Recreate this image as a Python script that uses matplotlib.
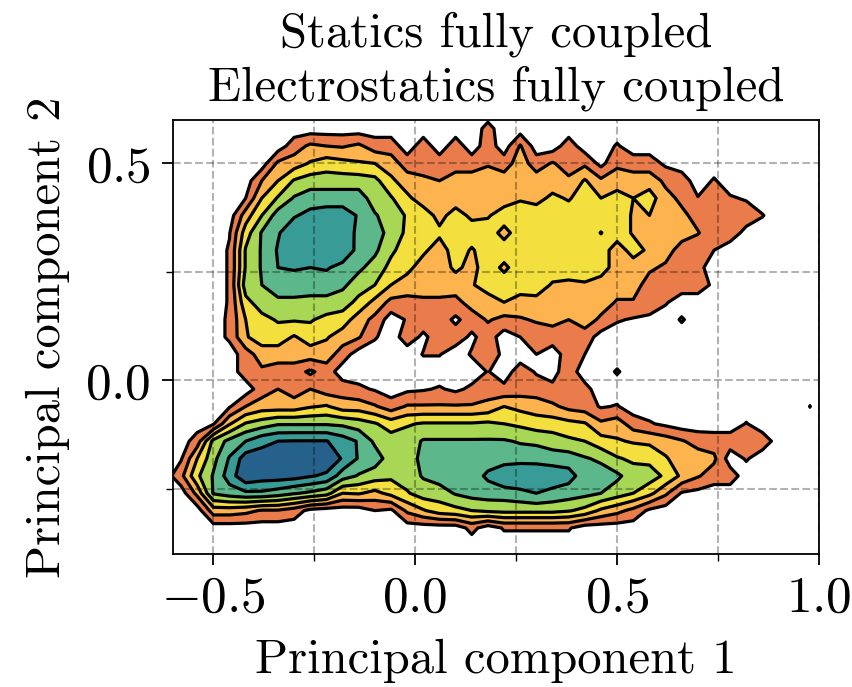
import numpy as np
import matplotlib
matplotlib.use("Agg")
import matplotlib.pyplot as plt
from matplotlib.ticker import FixedLocator

plt.rcParams['font.family'] = ['cmr10']
plt.rcParams['mathtext.fontset'] = 'cm'
plt.rcParams['axes.unicode_minus'] = False
plt.rcParams['axes.formatter.use_mathtext'] = True

title_lines = ["Statics fully coupled", "Electrostatics fully coupled"]
x_label = "Principal component 1"
y_label = "Principal component 2"
x_major = [-0.5, 0.0, 0.5, 1.0]
x_major_labels = ["$-0.5$", "$0.0$", "$0.5$", "$1.0$"]
x_minor = [-0.25, 0.25, 0.75]
y_major = [0.0, 0.5]
y_major_labels = ["$0.0$", "$0.5$"]
y_minor = [-0.25, 0.25]
fill_colors = ["#E97C4A", "#FDB44E", "#F3DF3E", "#A7D755", "#5CB88A", "#399B96", "#25618A"]
levels = [0.5, 1.5, 2.5, 3.5, 4.5, 5.5, 6.5, 9.0]

# bin centres of the density grid (first column / row lie outside the frame)
x_bins = [-0.62, -0.58, -0.54, -0.50, -0.46, -0.42, -0.38, -0.34, -0.30, -0.26, -0.22,
          -0.18, -0.14, -0.10, -0.06, -0.02, 0.02, 0.06, 0.10, 0.14, 0.18,
          0.22, 0.26, 0.30, 0.34, 0.38, 0.42, 0.46, 0.50, 0.54, 0.58,
          0.62, 0.66, 0.70, 0.74, 0.78, 0.82, 0.86, 0.90, 0.94, 0.98]
y_bins = [0.62, 0.58, 0.54, 0.50, 0.46, 0.42, 0.38, 0.34, 0.30, 0.26, 0.22, 0.18, 0.14,
          0.10, 0.06, 0.02, -0.02, -0.06, -0.10, -0.14, -0.18, -0.22, -0.26, -0.30, -0.34, -0.38]

row_top = [0]*41
row00 = [0,0,0,0,0,0,0,0,0,0,0,0,0,0,0,0,0,0,0,0,.8,0,0,0,0,0,0,0,0,0,0,0,0,0,0,0,0,0,0,0,0]
row01 = [0,0,0,0,0,0,0,0,1,1.7,1.5,1.4,1.7,1,1,0,1,0,1,0,1,0,1.6,0,0,1,0,0,.6,0,0,0,0,0,0,0,0,0,0,0,0]
row02 = [0,0,0,0,0,0,0,1.7,2,2.6,3,2.8,2.6,2.5,2,1,1,1,1,1,1.4,1,2,1,1.6,1,1.3,.2,1.3,1,1,.3,0,0,0,0,0,0,0,0,0]
row03 = [0,0,0,0,0,0,1.5,2.5,3.6,4,4,4,4,3.8,2.7,2,1.7,1.5,2,2,2,2,2,2,2,1.7,2.6,1.7,2,2,2,1.3,1,0,.6,0,0,0,0,0,0]
row04 = [0,0,0,0,0,.5,2.5,3.6,4.6,5,5,5,5,4,3.6,2.7,2,2,2,2,2,2,2.4,2.2,2.7,2.4,3,2.5,2.9,2.5,3,1.8,1.3,.55,1,.6,.4,0,0,0,0]
row05 = [0,0,0,0,0,2,3.5,5,5.4,5.8,6,6,5.4,4.6,4,3.4,3,2.2,2.9,2.3,2.4,3,3,3,3,3,3,3,3,2.4,2.5,2,1.7,1.2,1,1,1,.55,0,0,0]
row06 = [0,0,0,0,.45,3,4.6,5.4,6.2,6.5,6.5,6,5.3,5,4.1,3.3,3,2.7,3,3,3,2.17,3,3,3,3,3,2.47,3,2.4,2.5,2,2,1.55,1,1,.2,0,0,0,0]
row07 = [0,0,0,0,.6,3.6,4.6,5.6,6.3,6.5,6.5,6.2,5.2,4.7,3.7,3,2.7,2,3,2.4,3,3,3,3,3,3,3,3,2,2.9,2.3,2,1,1,.5,0,0,0,0,0,0]
row08 = [0,0,0,0,.6,3.6,4.6,5.5,5.6,5.5,5.6,5.2,4.7,4.1,3.2,2.8,2,2,2.7,2.2,3,2.3,3,3,3,3,3,3,2,2,1.7,1.3,1,.8,0,0,0,0,0,0,0]
row09 = [0,0,0,0,.6,4,4.5,5,5,5,5,4.7,4,3.5,2.5,2,2,2,2,2.4,3,3,3,3,2.4,2.3,2.4,2,2,2,1,1,1,1,.3,0,0,0,0,0,0]
row10 = [0,0,0,0,.6,3.2,4,4.3,4.3,4.2,4.2,4,3.2,2.2,1.2,1.2,1.3,1.3,1.2,1.9,2,2.5,2.1,2.2,2,2,2,2,1.4,1.4,1,.6,0,0,0,0,0,0,0,0,0]
row11 = [0,0,0,0,.7,2.5,3.2,3.6,3.6,3.6,3.2,3,2,1.2,0,.6,1,1,.3,1,1.6,1.2,1.4,1.6,1.8,1.5,2,1.3,.6,.4,.3,0,.6,0,0,0,0,0,0,0,0]
row12 = [0,0,0,0,.7,2.4,3,3,2.4,3,2.6,2,1.6,.6,0,1,.3,1,1,.3,1,0,.5,1,1,1,1,.1,0,0,0,0,0,0,0,0,0,0,0,0,0]
row13 = [0,0,0,0,0,1,2,2,2,2,2,1,0,0,0,0,.55,.55,0,.6,1,.3,0,.5,0,1,.5,0,0,0,0,0,0,0,0,0,0,0,0,0,0]
row14 = [0,0,0,0,0,1,1.3,1,1,.3,1,0,0,0,0,0,0,0,0,0,.55,0,1,.4,.2,1,0,0,.6,0,0,0,0,0,0,0,0,0,0,0,0]
row15 = [0,0,0,0,0,0,1,1.5,1,1.5,1,1,.7,.4,0,.3,.4,.6,.3,.7,1,.75,1,1,.7,1,.8,0,0,0,0,0,0,0,0,0,0,0,0,0,0]
row16 = [0,0,0,0,.4,1.5,2,2,2,2.4,2.6,2,2,1.6,1,1.6,1.6,1.6,1.6,1.6,1.8,2.5,2.2,2,1.7,1.2,1,.4,.57,0,0,0,0,0,0,0,0,0,0,0,.55]
row17 = [0,0,0,.4,2.4,3.6,4,4.4,4.4,4.4,4.4,4.3,4,3.6,3,3.4,3.6,3.6,3.6,3.6,3.7,3.5,3.3,3,3,2.8,2.6,1.7,2,1,.6,.3,0,0,0,0,.55,0,0,0,0]
row18 = [0,0,1,3.8,4.8,5.5,6.2,6.5,6.55,6.55,6.55,6,5.4,4.3,4,4,4.6,4.6,4.6,4.6,4.6,4.6,4.4,4.3,4,3.7,3.5,2.9,2.6,2.4,2.3,2,1.6,1.1,1,1,1,1,.1,0,0]
row19 = [0,.4,2.5,4.2,5.6,7,7,7,7,7,7.3,6.4,5.4,5,4,4,4.8,5,5,5,5,5,5.1,5.1,5,5,4.6,4.3,3.6,3.3,3.2,2.6,2,2,1.7,0,.6,0,0,0,0]
row20 = [0,1.2,3.3,4.6,6,7.3,7,7,6.9,6.6,6.3,5,4.4,4,3.7,4,4.6,5,5,5,5.7,6.4,6.5,6.4,6.2,5.9,5,5,4.7,4,4,3.3,2.3,1.6,1,1,0,0,0,0,0]
row21 = [0,0,1.8,4.6,5,5.3,5.3,5,4.6,4.3,3.9,2.5,2.6,2.2,2.8,3.4,4,4,4.6,4.9,5,5,5.2,5.5,5.2,5,4.8,4.5,4,3.5,2.8,1.7,.4,.2,0,0,0,0,0,0,0]
row22 = [0,0,0,2,2,1.8,1.4,1.4,1,.2,0,0,0,.5,.3,1.7,2.4,3,3.2,3.5,3.7,3.8,3.8,3.8,3.8,3.6,3.2,2.3,1.8,1.2,.3,0,0,0,0,0,0,0,0,0,0]
row23 = [0,0,0,0,0,0,0,0,0,0,0,0,0,0,0,0,0,0,0,.8,0,.6,.6,.6,.6,.6,0,0,0,0,0,0,0,0,0,0,0,0,0,0,0]
row24 = [0]*41

rows = [row_top, row00, row01, row02, row03, row04, row05, row06, row07, row08, row09, row10,
        row11, row12, row13, row14, row15, row16, row17, row18, row19, row20, row21, row22,
        row23, row24]
density = np.array(rows, dtype=float)

fig = plt.figure(figsize=(8.53, 6.87), dpi=100)
ax = fig.add_axes([173/853, 1-554/687, (819-173)/853, (554-120)/687])

ax.contourf(x_bins, y_bins, density, levels=levels, colors=fill_colors)
ax.contour(x_bins, y_bins, density, levels=levels[:-1], colors="black", linewidths=2.3)

ax.set_xlim(-0.6, 1.0)
ax.set_ylim(-0.4, 0.6)
ax.xaxis.set_major_locator(FixedLocator(x_major))
ax.xaxis.set_minor_locator(FixedLocator(x_minor))
ax.yaxis.set_major_locator(FixedLocator(y_major))
ax.yaxis.set_minor_locator(FixedLocator(y_minor))
ax.set_xticklabels(x_major_labels)
ax.set_yticklabels(y_major_labels)
ax.tick_params(which="major", length=8, width=1.3, labelsize=37, pad=8)
ax.tick_params(which="minor", length=5, width=1.0)
ax.set_axisbelow(False)
ax.grid(True, which="both", color="black", alpha=0.3, linestyle="--", linewidth=1.5)
for s in ax.spines.values():
    s.set_linewidth(1.3)

ax.set_xlabel(x_label, fontsize=35, labelpad=12)
ax.set_ylabel(y_label, fontsize=35, labelpad=11)
ax.set_title("\n".join(title_lines), fontsize=35, pad=14, linespacing=1.25)

fig.savefig("out.png", dpi=100)
